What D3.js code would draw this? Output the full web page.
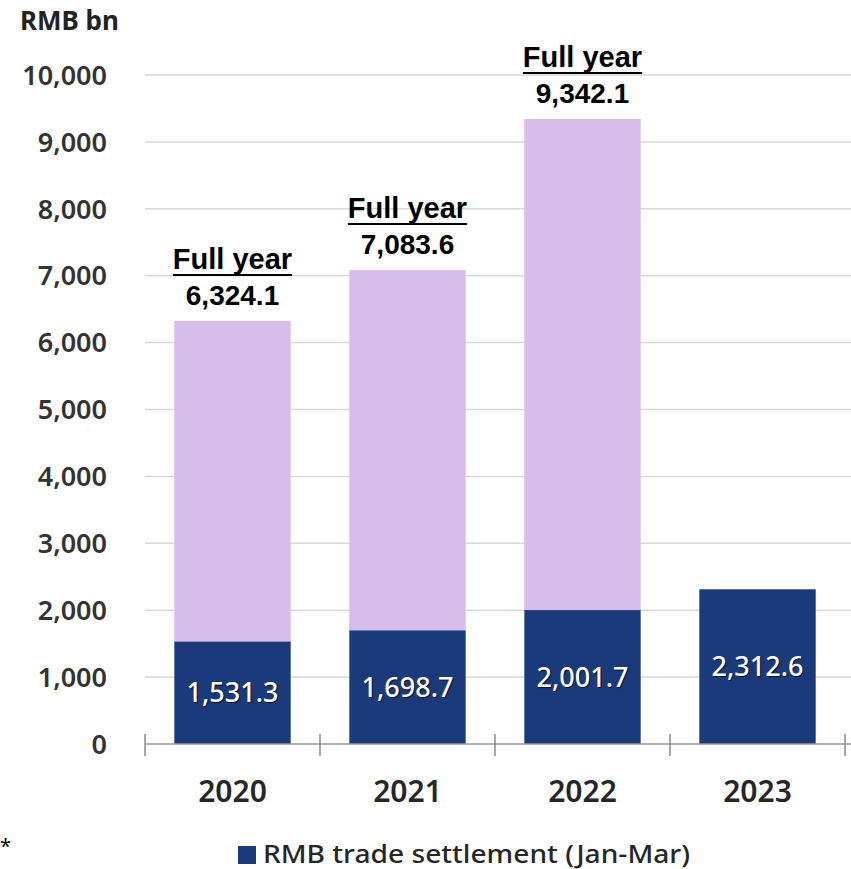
<!DOCTYPE html>
<html>
<head>
<meta charset="utf-8">
<script src="https://cdn.jsdelivr.net/npm/d3@7/dist/d3.min.js"></script>
<style>
  html, body { margin: 0; padding: 0; background: #fff; }
  svg { display: block; }
</style>
</head>
<body>
<svg id="chart" width="851" height="869"></svg>
<script>
// Yearly RMB trade settlement, RMB bn
const years = ["2020", "2021", "2022", "2023"];
const q1Values = [1531.3, 1698.7, 2001.7, 2312.6];       // Jan-Mar
const fullYearValues = [6324.1, 7083.6, 9342.1, null];   // whole year
const yTicks = [0, 1000, 2000, 3000, 4000, 5000, 6000, 7000, 8000, 9000, 10000];
const legendLabel = "RMB trade settlement (Jan-Mar)";
const unitLabel = "RMB bn";
const fullYearLabel = "Full year";

const W = 851, H = 869;
const margin = { left: 145, right: 6, top: 75, bottom: 125 };
const navy = "#1b3a7b";
const lilac = "#d8bdeb";
const fmt = d3.format(",.1f");
const svg = d3.select("#chart");

const x = d3.scaleBand().domain(years)
  .range([margin.left, margin.left + 700]).paddingInner(0.335).paddingOuter(0.1675);
const y = d3.scaleLinear().domain([0, 10000]).range([H - margin.bottom, margin.top]);

// gridlines
svg.append("g").selectAll("line").data(yTicks.filter(d => d > 0)).join("line")
  .attr("x1", margin.left).attr("x2", W)
  .attr("y1", d => y(d)).attr("y2", d => y(d))
  .attr("stroke", "#d9d9d9").attr("stroke-width", 1.5);

// y tick labels
svg.append("g").selectAll("text").data(yTicks).join("text")
  .attr("x", 107).attr("y", d => y(d))
  .attr("dy", "0.36em").attr("text-anchor", "end")
  .attr("font-family", "'Noto Sans', sans-serif").attr("font-size", 27)
  .attr("font-weight", 600).attr("fill", "#333")
  .text(d => d3.format(",")(d));

svg.append("text").attr("x", 20).attr("y", 30)
  .attr("font-family", "'Noto Sans', sans-serif").attr("font-size", 26)
  .attr("font-weight", 700).attr("fill", "#222").text(unitLabel);

const rows = years.map((yr, i) => ({ yr, q1: q1Values[i], full: fullYearValues[i] }));

// full-year bars (lilac) behind the Jan-Mar segment
svg.append("g").selectAll("rect").data(rows.filter(d => d.full != null)).join("rect")
  .attr("x", d => x(d.yr)).attr("width", x.bandwidth())
  .attr("y", d => y(d.full)).attr("height", d => y(d.q1) - y(d.full))
  .attr("fill", lilac);

svg.append("g").selectAll("rect").data(rows).join("rect")
  .attr("x", d => x(d.yr)).attr("width", x.bandwidth())
  .attr("y", d => y(d.q1)).attr("height", d => y(0) - y(d.q1))
  .attr("fill", navy);

// x axis with boundary ticks
const axisY = y(0);
svg.append("line").attr("x1", margin.left).attr("x2", W)
  .attr("y1", axisY).attr("y2", axisY).attr("stroke", "#9a9a9a").attr("stroke-width", 1.5);
const bounds = years.map(d => x(d) - x.step() * x.paddingInner() / 2);
bounds[0] = margin.left;
bounds.push(margin.left + 700);
svg.append("g").selectAll("line").data(bounds).join("line")
  .attr("x1", d => d).attr("x2", d => d)
  .attr("y1", axisY - 10).attr("y2", axisY + 12)
  .attr("stroke", "#8a8a8a").attr("stroke-width", 1.5);

svg.append("g").selectAll("text").data(years).join("text")
  .attr("x", d => x(d) + x.bandwidth() / 2).attr("y", 802)
  .attr("text-anchor", "middle")
  .attr("font-family", "'Noto Sans', sans-serif").attr("font-size", 30)
  .attr("font-weight", 600).attr("fill", "#262626").text(d => d);

// value labels inside the Jan-Mar segment
svg.append("g").selectAll("text").data(rows).join("text")
  .attr("x", d => x(d.yr) + x.bandwidth() / 2)
  .attr("y", d => (y(d.q1) + y(0)) / 2)
  .attr("dy", "0.36em").attr("text-anchor", "middle")
  .attr("font-family", "'Noto Sans', sans-serif").attr("font-size", 27)
  .attr("font-weight", 500).attr("fill", "#fff")
  .style("text-shadow", "1px 1px 1px rgba(0,0,0,0.7)")
  .text(d => fmt(d.q1));

// full-year annotations
const ann = svg.append("g").selectAll("g").data(rows.filter(d => d.full != null)).join("g");
ann.append("text")
  .attr("x", d => x(d.yr) + x.bandwidth() / 2).attr("y", d => y(d.full) - 16)
  .attr("text-anchor", "middle")
  .attr("font-family", "'Liberation Sans', Arial, sans-serif").attr("font-size", 28)
  .attr("font-weight", 700).attr("fill", "#000").text(d => fmt(d.full));
ann.each(function(d) {
  const g = d3.select(this);
  const cx = x(d.yr) + x.bandwidth() / 2;
  const t = g.append("text")
    .attr("x", cx).attr("y", y(d.full) - 52)
    .attr("text-anchor", "middle")
    .attr("font-family", "'Liberation Sans', Arial, sans-serif").attr("font-size", 29)
    .attr("font-weight", 700).attr("fill", "#000").text(fullYearLabel);
  const w = t.node().getComputedTextLength();
  g.append("line").attr("x1", cx - w / 2).attr("x2", cx + w / 2)
    .attr("y1", y(d.full) - 46).attr("y2", y(d.full) - 46)
    .attr("stroke", "#000").attr("stroke-width", 2);
});

// legend
svg.append("rect").attr("x", 238).attr("y", 846).attr("width", 18).attr("height", 18).attr("fill", navy);
svg.append("text").attr("x", 263).attr("y", 863)
  .attr("font-family", "'Noto Sans', sans-serif").attr("font-size", 25)
  .attr("font-weight", 500)
  .attr("textLength", 427).attr("lengthAdjust", "spacingAndGlyphs")
  .attr("fill", "#262626").text(legendLabel);

svg.append("text").attr("x", 0).attr("y", 853)
  .attr("font-family", "'Noto Sans', sans-serif").attr("font-size", 20)
  .attr("fill", "#000").text("*");
</script>
</body>
</html>
